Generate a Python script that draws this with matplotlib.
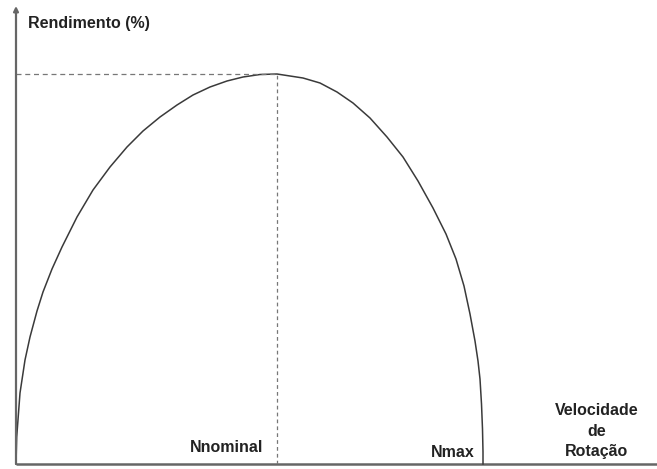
import matplotlib
matplotlib.use("Agg")
import matplotlib.pyplot as plt

plt.rcParams['font.family'] = ['Liberation Sans', 'DejaVu Sans']

# Data (speed, efficiency in arbitrary units)
speed = [0, 0.7, 4, 9, 14, 21, 27, 36, 46, 61, 77, 94, 111, 127, 144, 161, 177,
         194, 211, 227, 244, 261, 287, 304, 321, 337, 354, 371, 387, 402, 417,
         430, 440, 448, 454, 459, 462, 464, 465.5, 466.5, 467, 467]
efficiency = [0, 27, 71, 104, 127, 153, 172, 195, 217, 247, 274, 297, 317, 333,
              347, 359, 369, 377, 383, 387, 389.5, 390, 386, 381, 372, 361, 346,
              327, 307, 283, 256, 230, 205, 178, 150, 123, 103, 85, 60, 35, 12, 0]
n_nominal = 261
eff_max = 390
n_max = 467

y_label = "Rendimento (%)"
x_label = "Velocidade\nde\nRotação"
label_nominal = "Nnominal"
label_max = "Nmax"

W, H = 657, 469
fig = plt.figure(figsize=(W / 100, H / 100), dpi=100)
ax = fig.add_axes([16 / W, 5 / H, 641 / W, 456 / H])
ax.set_xlim(0, 641)
ax.set_ylim(0, 456)
ax.axis('off')

axis_color = '#666666'
# axes with arrows
ax.annotate('', xy=(0, 458), xytext=(0, 0),
            arrowprops=dict(arrowstyle='-|>', color=axis_color, lw=1.6,
                            mutation_scale=7, shrinkA=0, shrinkB=0),
            annotation_clip=False)
ax.plot([0, 641], [0, 0], color=axis_color, lw=1.8, clip_on=False,
        solid_capstyle='butt')

# curve
ax.plot(speed, efficiency, color='#3a3a3a', lw=1.1, clip_on=False,
        solid_joinstyle='round')

# dashed guides
ax.plot([0, n_nominal], [eff_max, eff_max], color='#777777', lw=0.9,
        linestyle=(0, (4, 3)))
ax.plot([n_nominal, n_nominal], [0, eff_max], color='#777777', lw=0.9,
        linestyle=(0, (3, 2.5)))

txt = dict(fontsize=11.5, fontweight='bold', color='#222222')
ax.text(12, 441, y_label, ha='left', va='center', **txt)
ax.text(n_nominal - 14, 17, label_nominal, ha='right', va='center', **txt)
ax.text(n_max - 8, 12, label_max, ha='right', va='center', **txt)
ax.text(581, 33, x_label, ha='center', va='center', linespacing=1.45, **txt)

fig.savefig("out.png", dpi=100)
